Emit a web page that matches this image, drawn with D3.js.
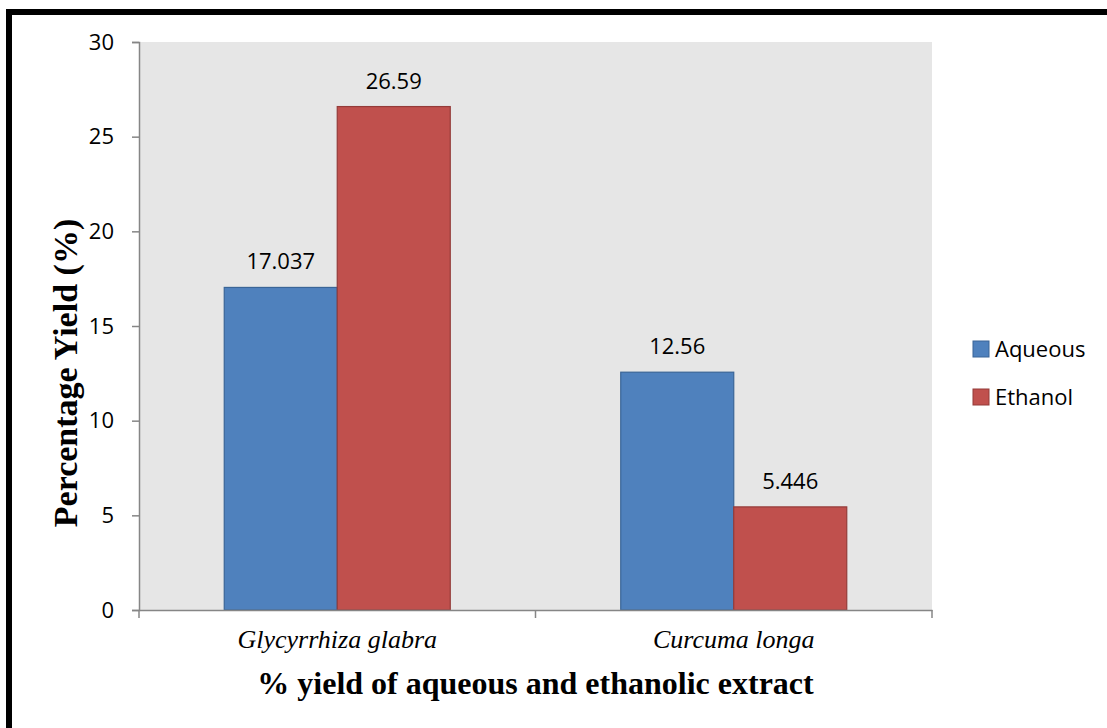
<!DOCTYPE html>
<html>
<head>
<meta charset="utf-8">
<script src="https://cdn.jsdelivr.net/npm/d3@7"></script>
<style>
  body { margin: 0; background: #fff; }
</style>
</head>
<body>
<div id="chart"></div>
<script>
// Extract yield data
const categories = ["Glycyrrhiza glabra", "Curcuma longa"];
const seriesNames = ["Aqueous", "Ethanol"];
const aqueous = [17.037, 12.56];
const ethanol = [26.59, 5.446];
const valueLabels = [["17.037", "26.59"], ["12.56", "5.446"]];
const yTicks = [0, 5, 10, 15, 20, 25, 30];

const colors = ["#4F81BD", "#C0504D"];
const strokes = ["#3A6597", "#943B39"];
const sans = "'Open Sans', 'Noto Sans', sans-serif";
const serif = "'Liberation Serif', 'Times New Roman', serif";

const W = 1107, H = 728;
const plot = {left: 139, right: 932, top: 42, bottom: 610};

const svg = d3.select("#chart")
    .append("svg")
    .attr("width", W)
    .attr("height", H);

svg.append("rect").attr("width", W).attr("height", H).attr("fill", "#fff");

// outer frame (only top and left visible)
svg.append("rect")
    .attr("x", 9).attr("y", 12)
    .attr("width", W + 20).attr("height", H + 20)
    .attr("fill", "none")
    .attr("stroke", "#000")
    .attr("stroke-width", 6);

// plot background
svg.append("rect")
    .attr("x", plot.left).attr("y", plot.top)
    .attr("width", plot.right - plot.left)
    .attr("height", plot.bottom - plot.top)
    .attr("fill", "#E6E6E6");

const x0 = d3.scaleBand()
    .domain(categories)
    .range([plot.left, plot.right]);

const x1 = d3.scaleBand()
    .domain(seriesNames)
    .range([0, x0.bandwidth() * 0.57])
    .padding(0);

const y = d3.scaleLinear()
    .domain([0, 30])
    .range([plot.bottom, plot.top]);

const rows = categories.map((c, i) => ({
    cat: c,
    vals: [aqueous[i], ethanol[i]],
    labels: valueLabels[i]
}));

const groups = svg.selectAll("g.grp")
    .data(rows)
    .enter()
    .append("g")
    .attr("class", "grp")
    .attr("transform", d => `translate(${x0(d.cat) + x0.bandwidth() * 0.215},0)`);

groups.selectAll("rect")
    .data(d => d.vals.map((v, j) => ({v, j, label: d.labels[j]})))
    .enter()
    .append("rect")
    .attr("x", d => x1(seriesNames[d.j]))
    .attr("y", d => y(d.v))
    .attr("width", x1.bandwidth())
    .attr("height", d => y(0) - y(d.v))
    .attr("fill", d => colors[d.j])
    .attr("stroke", d => strokes[d.j])
    .attr("stroke-width", 1.2);

groups.selectAll("text.val")
    .data(d => d.vals.map((v, j) => ({v, j, label: d.labels[j]})))
    .enter()
    .append("text")
    .attr("class", "val")
    .attr("x", d => x1(seriesNames[d.j]) + x1.bandwidth() / 2)
    .attr("y", d => y(d.v) - 18)
    .attr("text-anchor", "middle")
    .attr("font-family", sans)
    .attr("font-size", 22)
    .attr("fill", "#000")
    .text(d => d.label);

// y axis
const yAxis = svg.append("g")
    .attr("transform", `translate(${plot.left},0)`)
    .call(d3.axisLeft(y).tickValues(yTicks).tickSize(7).tickPadding(18));
yAxis.select(".domain").attr("stroke", "#868686").attr("stroke-width", 1.5);
yAxis.selectAll(".tick line").attr("stroke", "#868686").attr("stroke-width", 1.5);
yAxis.selectAll(".tick text")
    .attr("font-family", sans)
    .attr("font-size", 22)
    .attr("fill", "#000");

// x axis
const xAxis = svg.append("g")
    .attr("transform", `translate(0,${plot.bottom})`)
    .call(d3.axisBottom(x0).tickSize(0).tickPadding(20));
xAxis.select(".domain").attr("stroke", "#868686").attr("stroke-width", 1.5);
xAxis.selectAll(".tick text")
    .attr("font-family", serif)
    .attr("font-style", "italic")
    .attr("font-size", 26)
    .attr("fill", "#000");

// category boundary ticks
const bounds = [x0(categories[0]), x0(categories[1]), x0(categories[1]) + x0.bandwidth()];
svg.selectAll("line.bt")
    .data(bounds)
    .enter()
    .append("line")
    .attr("x1", d => d).attr("x2", d => d)
    .attr("y1", plot.bottom).attr("y2", plot.bottom + 8)
    .attr("stroke", "#868686")
    .attr("stroke-width", 1.5);

// axis titles
svg.append("text")
    .attr("x", (plot.left + plot.right) / 2)
    .attr("y", 694)
    .attr("text-anchor", "middle")
    .attr("font-family", serif)
    .attr("font-weight", "bold")
    .attr("font-size", 32)
    .text("% yield of aqueous and ethanolic extract");

svg.append("text")
    .attr("transform", "rotate(-90)")
    .attr("x", -373)
    .attr("y", 77)
    .attr("text-anchor", "middle")
    .attr("font-family", serif)
    .attr("font-weight", "bold")
    .attr("font-size", 34)
    .text("Percentage Yield (%)");

// legend
const legend = svg.selectAll("g.leg")
    .data(seriesNames)
    .enter()
    .append("g")
    .attr("class", "leg")
    .attr("transform", (d, i) => `translate(973,${341 + i * 48})`);

legend.append("rect")
    .attr("width", 16).attr("height", 16)
    .attr("fill", (d, i) => colors[i])
    .attr("stroke", (d, i) => strokes[i])
    .attr("stroke-width", 1);

legend.append("text")
    .attr("x", 22)
    .attr("y", 16)
    .attr("font-family", sans)
    .attr("font-size", 22)
    .text(d => d);
</script>
</body>
</html>
